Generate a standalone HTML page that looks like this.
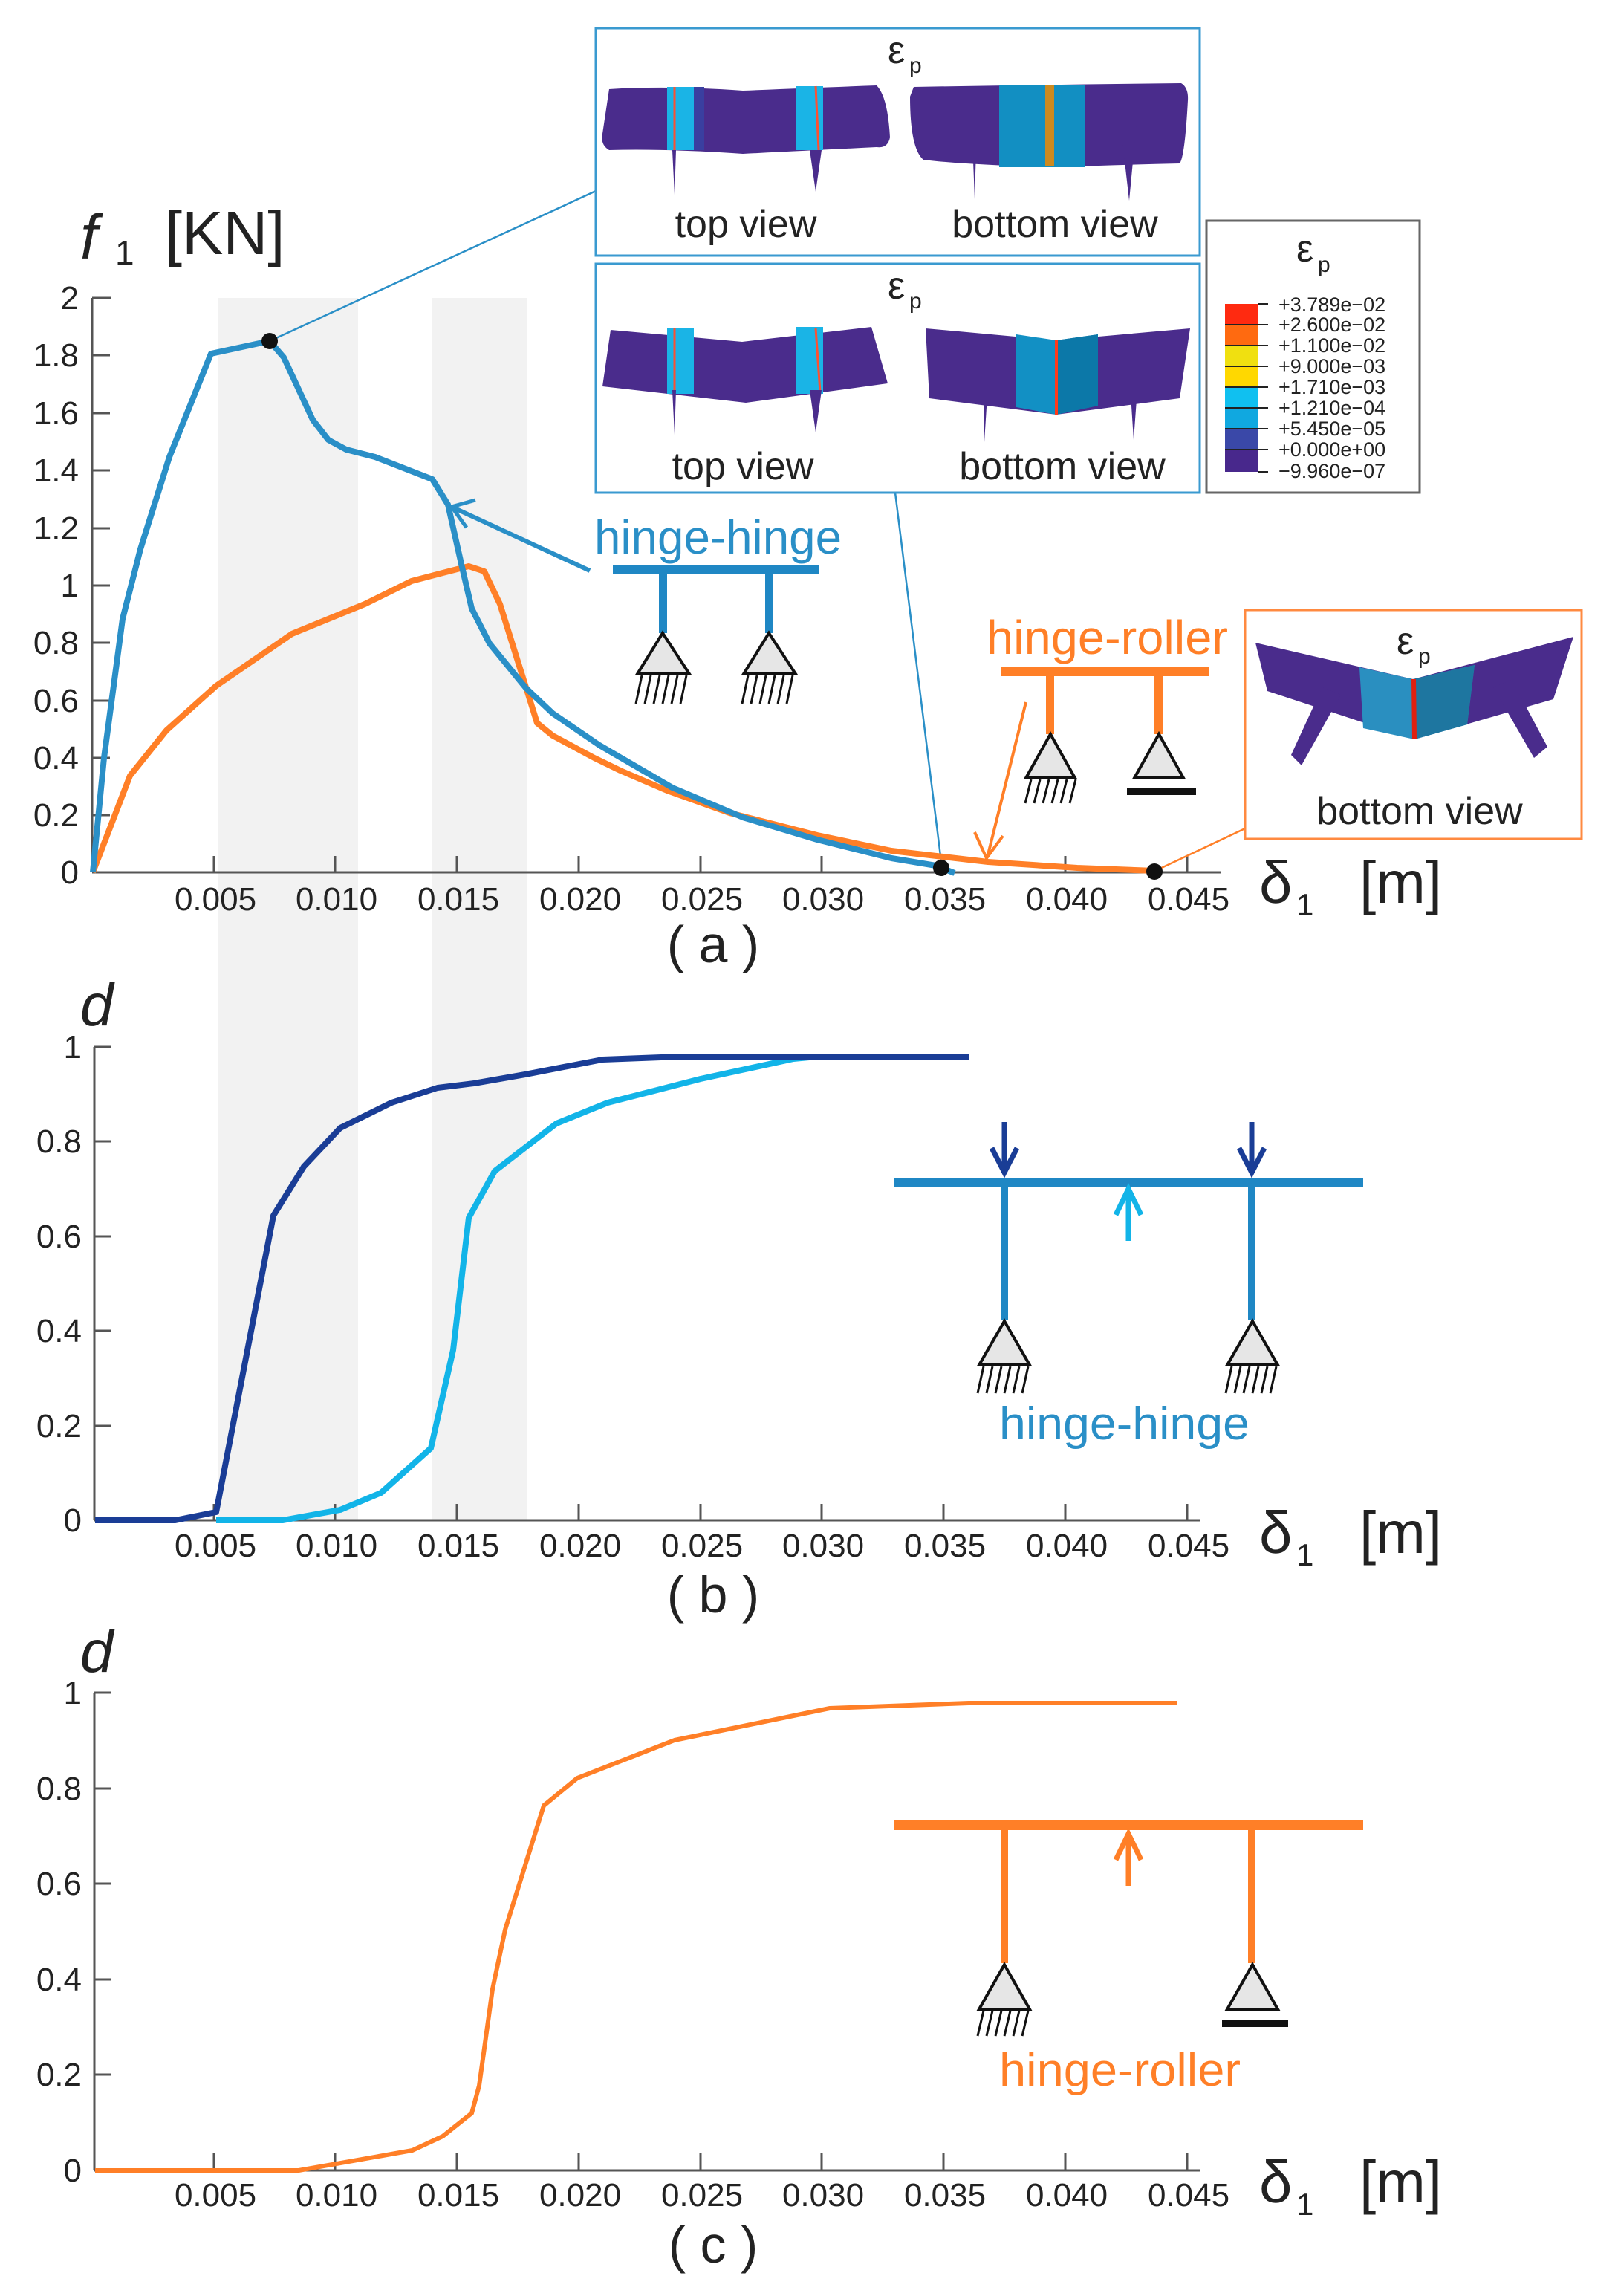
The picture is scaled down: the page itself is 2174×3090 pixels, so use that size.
<!DOCTYPE html>
<html><head><meta charset="utf-8"><style>
html,body{margin:0;padding:0;background:#fff}
svg{display:block}
text{font-family:"Liberation Sans",sans-serif}
</style></head><body>
<svg width="2174" height="3090" viewBox="0 0 2174 3090" xmlns="http://www.w3.org/2000/svg">
<rect x="293" y="401" width="189" height="1645" fill="#f2f2f2"/>
<rect x="582" y="401" width="128" height="1645" fill="#f2f2f2"/>

<g stroke="#555" stroke-width="3" fill="none">
<line x1="124" y1="401" x2="124" y2="1174"/>
<line x1="124" y1="1174" x2="1643" y2="1174"/>
<line x1="124" y1="401" x2="150" y2="401"/><line x1="124" y1="478" x2="148" y2="478"/><line x1="124" y1="556" x2="148" y2="556"/><line x1="124" y1="633" x2="148" y2="633"/><line x1="124" y1="711" x2="148" y2="711"/><line x1="124" y1="788" x2="148" y2="788"/><line x1="124" y1="865" x2="148" y2="865"/><line x1="124" y1="943" x2="148" y2="943"/><line x1="124" y1="1020" x2="148" y2="1020"/><line x1="124" y1="1097" x2="148" y2="1097"/>
<line x1="288" y1="1174" x2="288" y2="1152"/><line x1="451" y1="1174" x2="451" y2="1152"/><line x1="615" y1="1174" x2="615" y2="1152"/><line x1="779" y1="1174" x2="779" y2="1152"/><line x1="943" y1="1174" x2="943" y2="1152"/><line x1="1106" y1="1174" x2="1106" y2="1152"/><line x1="1270" y1="1174" x2="1270" y2="1152"/><line x1="1434" y1="1174" x2="1434" y2="1152"/><line x1="1598" y1="1174" x2="1598" y2="1152"/>
</g>
<g font-size="44" fill="#222" text-anchor="end">
<text x="106" y="416">2</text><text x="106" y="493">1.8</text><text x="106" y="571">1.6</text><text x="106" y="648">1.4</text><text x="106" y="726">1.2</text><text x="106" y="803">1</text><text x="106" y="880">0.8</text><text x="106" y="958">0.6</text><text x="106" y="1035">0.4</text><text x="106" y="1112">0.2</text><text x="106" y="1189">0</text>
</g>
<g font-size="44" fill="#222" text-anchor="middle">
<text x="290" y="1225">0.005</text><text x="453" y="1225">0.010</text><text x="617" y="1225">0.015</text><text x="781" y="1225">0.020</text><text x="945" y="1225">0.025</text><text x="1108" y="1225">0.030</text><text x="1272" y="1225">0.035</text><text x="1436" y="1225">0.040</text><text x="1600" y="1225">0.045</text>
</g>
<text x="108" y="348" font-size="84" font-style="italic" fill="#222">f</text>
<text x="155" y="356" font-size="46" fill="#222">1</text>
<text x="222" y="342" font-size="83" fill="#222">[KN]</text>
<text x="1695" y="1215" font-size="80" fill="#222">δ</text>
<text x="1745" y="1232" font-size="42" fill="#222">1</text>
<text x="1830" y="1215" font-size="80" fill="#222">[m]</text>
<text x="960" y="1295" font-size="70" fill="#222" text-anchor="middle">( a )</text>

<line x1="363" y1="459" x2="802" y2="257" stroke="#2a8fc7" stroke-width="2.5"/>
<line x1="1205" y1="663" x2="1268" y2="1168" stroke="#2a8fc7" stroke-width="2.5"/>
<line x1="1676" y1="1115" x2="1555" y2="1172" stroke="#ff7f27" stroke-width="2.5"/>

<polyline fill="none" stroke="#ff7f27" stroke-width="8" stroke-linejoin="round" points="125,1174 175,1044 224,983 291,923 393,853 491,813 554,782 596,771 631,762 652,769 673,813 723,973 744,990 800,1020 835,1037 898,1064 982,1094 1100,1124 1200,1145 1330,1160 1450,1168 1555,1172"/>
<polyline fill="none" stroke="#2a8fc7" stroke-width="8" stroke-linejoin="round" points="125,1174 140,1020 165,833 189,739 228,615 284,476 363,459 382,481 421,565 442,592 466,605 505,615 582,645 603,679 621,759 635,819 659,866 708,926 744,960 807,1003 905,1060 1000,1100 1100,1130 1200,1155 1260,1165 1285,1175"/>
<circle cx="363" cy="459" r="11" fill="#111"/>
<circle cx="1267" cy="1168" r="11" fill="#111"/>
<circle cx="1554" cy="1173" r="11" fill="#111"/>

<line x1="794" y1="768" x2="612" y2="684" stroke="#2a8fc7" stroke-width="6"/>
<polyline points="640,673 608,682 628,710" fill="none" stroke="#2a8fc7" stroke-width="5"/>
<line x1="1381" y1="945" x2="1330" y2="1150" stroke="#ff7f27" stroke-width="4"/>
<polyline points="1312,1120 1328,1155 1350,1125" fill="none" stroke="#ff7f27" stroke-width="4"/>

<text x="800" y="745" font-size="64" fill="#2a8fc7" textLength="333" lengthAdjust="spacingAndGlyphs">hinge-hinge</text>
<rect x="825" y="761" width="278" height="12" fill="#1f87c4"/>
<rect x="887" y="770" width="11" height="82" fill="#1f87c4"/>
<rect x="1030" y="770" width="11" height="82" fill="#1f87c4"/>
<g stroke="#111" stroke-width="4" fill="#e6e6e6">
<polygon points="892,852 858,907 928,907"/>
<polygon points="1035,852 1001,907 1071,907"/>
</g>
<g stroke="#111" stroke-width="3">
<path d="M864,909 l-8,38 M876,909 l-8,38 M888,909 l-8,38 M900,909 l-8,38 M912,909 l-8,38 M924,909 l-8,38"/>
<path d="M1007,909 l-8,38 M1019,909 l-8,38 M1031,909 l-8,38 M1043,909 l-8,38 M1055,909 l-8,38 M1067,909 l-8,38"/>
</g>

<text x="1328" y="880" font-size="64" fill="#ff7f27" textLength="325" lengthAdjust="spacingAndGlyphs">hinge-roller</text>
<rect x="1348" y="898" width="279" height="12" fill="#ff7f27"/>
<rect x="1408" y="906" width="11" height="82" fill="#ff7f27"/>
<rect x="1554" y="906" width="11" height="82" fill="#ff7f27"/>
<g stroke="#111" stroke-width="4" fill="#e6e6e6">
<polygon points="1414,988 1381,1047 1447,1047"/>
<polygon points="1560,988 1527,1047 1593,1047"/>
</g>
<rect x="1517" y="1060" width="93" height="10" fill="#111"/>
<path d="M1388,1049 l-8,32 M1400,1049 l-8,32 M1412,1049 l-8,32 M1424,1049 l-8,32 M1436,1049 l-8,32 M1448,1049 l-8,32" stroke="#111" stroke-width="3"/>

<rect x="802" y="38" width="813" height="306" fill="#fff" stroke="#3a9ad0" stroke-width="3"/>
<text x="1195" y="85" font-size="52" fill="#222">ε</text><text x="1224" y="98" font-size="30" fill="#222">p</text>
<path d="M820,120 Q900,115 1000,122 Q1100,118 1180,115 Q1195,130 1198,185 Q1195,200 1180,198 Q1100,202 1000,207 Q900,200 820,202 Q808,195 811,180 Z" fill="#4a2c8c"/>
<rect x="898" y="117" width="36" height="85" fill="#1ab4e6"/><rect x="1072" y="116" width="36" height="86" fill="#1ab4e6"/>
<rect x="934" y="117" width="14" height="85" fill="#3a3fa0"/>
<line x1="908" y1="117" x2="908" y2="202" stroke="#ff5030" stroke-width="3"/><line x1="1098" y1="116" x2="1102" y2="202" stroke="#ff5030" stroke-width="3"/>
<polygon points="905,202 910,202 908,262" fill="#4a2c8c"/><polygon points="1090,202 1106,202 1098,258" fill="#4a2c8c"/>
<path d="M1230,117 Q1400,114 1590,112 Q1600,118 1599,135 Q1595,210 1588,220 Q1500,222 1420,225 Q1300,222 1243,215 Q1225,200 1225,130 Z" fill="#4a2c8c"/>
<rect x="1345" y="115" width="115" height="110" fill="#128fc2"/>
<rect x="1407" y="115" width="12" height="108" fill="#cc8a20"/>
<polygon points="1308,165 1315,165 1312,268" fill="#4a2c8c"/><polygon points="1508,165 1530,165 1520,270" fill="#4a2c8c"/>
<text x="1004" y="319" font-size="52" fill="#222" text-anchor="middle">top view</text>
<text x="1420" y="319" font-size="52" fill="#222" text-anchor="middle">bottom view</text>

<rect x="802" y="355" width="813" height="308" fill="#fff" stroke="#3a9ad0" stroke-width="3"/>
<text x="1195" y="402" font-size="52" fill="#222">ε</text><text x="1224" y="415" font-size="30" fill="#222">p</text>
<polygon points="822,444 999,460 1173,440 1195,516 1004,542 811,520" fill="#4a2c8c"/>
<rect x="898" y="442" width="36" height="88" fill="#1ab4e6"/><rect x="1072" y="440" width="36" height="90" fill="#1ab4e6"/>
<line x1="908" y1="442" x2="908" y2="530" stroke="#ff5030" stroke-width="3"/><line x1="1098" y1="442" x2="1104" y2="528" stroke="#ff5030" stroke-width="3"/>
<polygon points="905,525 910,525 908,585" fill="#4a2c8c"/><polygon points="1090,525 1106,525 1098,582" fill="#4a2c8c"/>
<polygon points="1246,442 1422,458 1602,442 1588,536 1422,558 1251,536" fill="#4a2c8c"/>
<polygon points="1368,450 1422,458 1478,450 1478,546 1422,558 1368,548" fill="#1290c4"/>
<polygon points="1422,458 1478,450 1478,546 1422,558" fill="#0c78a8"/>
<line x1="1422" y1="458" x2="1422" y2="558" stroke="#ff3a1a" stroke-width="4"/>
<polygon points="1325,470 1333,470 1325,595" fill="#4a2c8c"/><polygon points="1518,470 1535,470 1526,592" fill="#4a2c8c"/>
<text x="1000" y="645" font-size="52" fill="#222" text-anchor="middle">top view</text>
<text x="1430" y="645" font-size="52" fill="#222" text-anchor="middle">bottom view</text>

<rect x="1624" y="297" width="287" height="366" fill="#fff" stroke="#666" stroke-width="3"/>
<text x="1745" y="352" font-size="52" fill="#222">ε</text><text x="1774" y="366" font-size="30" fill="#222">p</text>
<rect x="1649" y="409" width="44" height="28" fill="#ff2a10"/>
<rect x="1649" y="437" width="44" height="28" fill="#ff6a10"/>
<rect x="1649" y="465" width="44" height="28" fill="#f0e010"/>
<rect x="1649" y="493" width="44" height="28" fill="#ffd800"/>
<rect x="1649" y="521" width="44" height="28" fill="#10c0f0"/>
<rect x="1649" y="549" width="44" height="28" fill="#10a8e0"/>
<rect x="1649" y="577" width="44" height="28" fill="#3a48a8"/>
<rect x="1649" y="605" width="44" height="30" fill="#48288c"/>
<g stroke="#222" stroke-width="2"><path d="M1649,437 h58 M1649,465 h58 M1649,493 h58 M1649,521 h58 M1649,549 h58 M1649,577 h58 M1649,605 h58 M1693,409 h14 M1693,635 h14"/></g>
<g font-size="27" fill="#222">
<text x="1721" y="419">+3.789e−02</text><text x="1721" y="446">+2.600e−02</text><text x="1721" y="474">+1.100e−02</text><text x="1721" y="502">+9.000e−03</text><text x="1721" y="530">+1.710e−03</text><text x="1721" y="558">+1.210e−04</text><text x="1721" y="586">+5.450e−05</text><text x="1721" y="614">+0.000e+00</text><text x="1721" y="643">−9.960e−07</text>
</g>

<rect x="1676" y="821" width="453" height="308" fill="#fff" stroke="#ff8a40" stroke-width="3"/>
<polygon points="1690,865 1902,914 2118,857 2091,941 1904,995 1706,930" fill="#4a2c8c"/>
<polygon points="1830,898 1902,914 1985,895 1975,975 1904,995 1835,980" fill="#2a8fc0"/>
<polygon points="1902,914 1985,895 1975,975 1904,995" fill="#1e76a0"/>
<line x1="1903" y1="914" x2="1904" y2="995" stroke="#e02010" stroke-width="6"/>
<polygon points="1780,925 1805,935 1752,1030 1738,1016" fill="#4a2c8c"/>
<polygon points="2010,925 2035,915 2083,1005 2065,1020" fill="#4a2c8c"/>
<text x="1880" y="880" font-size="52" fill="#222">ε</text><text x="1909" y="893" font-size="30" fill="#222">p</text>
<text x="1911" y="1109" font-size="52" fill="#222" text-anchor="middle">bottom view</text>

<g stroke="#555" stroke-width="3" fill="none">
<line x1="127" y1="1409" x2="127" y2="2046"/>
<line x1="127" y1="2046" x2="1615" y2="2046"/>
<line x1="127" y1="1409" x2="150" y2="1409"/><line x1="127" y1="1536" x2="150" y2="1536"/><line x1="127" y1="1664" x2="150" y2="1664"/><line x1="127" y1="1791" x2="150" y2="1791"/><line x1="127" y1="1919" x2="150" y2="1919"/>
<line x1="288" y1="2046" x2="288" y2="2024"/><line x1="451" y1="2046" x2="451" y2="2024"/><line x1="615" y1="2046" x2="615" y2="2024"/><line x1="779" y1="2046" x2="779" y2="2024"/><line x1="943" y1="2046" x2="943" y2="2024"/><line x1="1106" y1="2046" x2="1106" y2="2024"/><line x1="1270" y1="2046" x2="1270" y2="2024"/><line x1="1434" y1="2046" x2="1434" y2="2024"/><line x1="1598" y1="2046" x2="1598" y2="2024"/>
</g>
<g font-size="44" fill="#222" text-anchor="end">
<text x="110" y="1424">1</text><text x="110" y="1551">0.8</text><text x="110" y="1679">0.6</text><text x="110" y="1806">0.4</text><text x="110" y="1934">0.2</text><text x="110" y="2061">0</text>
</g>
<g font-size="44" fill="#222" text-anchor="middle">
<text x="290" y="2095">0.005</text><text x="453" y="2095">0.010</text><text x="617" y="2095">0.015</text><text x="781" y="2095">0.020</text><text x="945" y="2095">0.025</text><text x="1108" y="2095">0.030</text><text x="1272" y="2095">0.035</text><text x="1436" y="2095">0.040</text><text x="1600" y="2095">0.045</text>
</g>
<text x="108" y="1380" font-size="80" font-style="italic" fill="#222">d</text>
<text x="1695" y="2090" font-size="80" fill="#222">δ</text>
<text x="1745" y="2107" font-size="42" fill="#222">1</text>
<text x="1830" y="2090" font-size="80" fill="#222">[m]</text>
<text x="960" y="2170" font-size="70" fill="#222" text-anchor="middle">( b )</text>
<polyline fill="none" stroke="#12b4e8" stroke-width="8" stroke-linejoin="round" points="291,2046 381,2046 458,2032 513,2009 580,1949 610,1817 631,1639 666,1576 749,1512 818,1484 943,1452 1068,1425 1100,1422"/>
<polyline fill="none" stroke="#1a3d96" stroke-width="8" stroke-linejoin="round" points="128,2046 236,2046 291,2035 368,1636 409,1570 458,1518 527,1484 589,1464 638,1458 707,1446 811,1426 915,1422 1304,1422"/>
<rect x="1204" y="1585" width="631" height="13" fill="#1f87c4"/>
<rect x="1347" y="1592" width="10" height="184" fill="#1f87c4"/>
<rect x="1680" y="1592" width="10" height="184" fill="#1f87c4"/>
<g stroke="#111" stroke-width="4" fill="#e6e6e6">
<polygon points="1352,1778 1318,1837 1386,1837"/><polygon points="1686,1778 1652,1837 1720,1837"/>
</g>
<path d="M1324,1839 l-8,36 M1336,1839 l-8,36 M1348,1839 l-8,36 M1360,1839 l-8,36 M1372,1839 l-8,36 M1384,1839 l-8,36 M1658,1839 l-8,36 M1670,1839 l-8,36 M1682,1839 l-8,36 M1694,1839 l-8,36 M1706,1839 l-8,36 M1718,1839 l-8,36" stroke="#111" stroke-width="3"/>
<g stroke="#1a3d96" stroke-width="7" fill="none">
<line x1="1352" y1="1510" x2="1352" y2="1575"/><polyline points="1335,1545 1352,1578 1369,1545"/>
<line x1="1685" y1="1510" x2="1685" y2="1575"/><polyline points="1668,1545 1685,1578 1702,1545"/>
</g>
<g stroke="#12b4e8" stroke-width="7" fill="none">
<line x1="1519" y1="1670" x2="1519" y2="1600"/><polyline points="1502,1635 1519,1600 1536,1635"/>
</g>
<text x="1345" y="1937" font-size="62" fill="#2a8fc7" textLength="337" lengthAdjust="spacingAndGlyphs">hinge-hinge</text>

<g stroke="#555" stroke-width="3" fill="none">
<line x1="127" y1="2278" x2="127" y2="2921"/>
<line x1="127" y1="2921" x2="1615" y2="2921"/>
<line x1="127" y1="2278" x2="150" y2="2278"/><line x1="127" y1="2407" x2="150" y2="2407"/><line x1="127" y1="2535" x2="150" y2="2535"/><line x1="127" y1="2664" x2="150" y2="2664"/><line x1="127" y1="2792" x2="150" y2="2792"/>
<line x1="288" y1="2921" x2="288" y2="2897"/><line x1="451" y1="2921" x2="451" y2="2897"/><line x1="615" y1="2921" x2="615" y2="2897"/><line x1="779" y1="2921" x2="779" y2="2897"/><line x1="943" y1="2921" x2="943" y2="2897"/><line x1="1106" y1="2921" x2="1106" y2="2897"/><line x1="1270" y1="2921" x2="1270" y2="2897"/><line x1="1434" y1="2921" x2="1434" y2="2897"/><line x1="1598" y1="2921" x2="1598" y2="2897"/>
</g>
<g font-size="44" fill="#222" text-anchor="end">
<text x="110" y="2293">1</text><text x="110" y="2422">0.8</text><text x="110" y="2550">0.6</text><text x="110" y="2679">0.4</text><text x="110" y="2807">0.2</text><text x="110" y="2936">0</text>
</g>
<g font-size="44" fill="#222" text-anchor="middle">
<text x="290" y="2969">0.005</text><text x="453" y="2969">0.010</text><text x="617" y="2969">0.015</text><text x="781" y="2969">0.020</text><text x="945" y="2969">0.025</text><text x="1108" y="2969">0.030</text><text x="1272" y="2969">0.035</text><text x="1436" y="2969">0.040</text><text x="1600" y="2969">0.045</text>
</g>
<text x="108" y="2250" font-size="80" font-style="italic" fill="#222">d</text>
<text x="1695" y="2964" font-size="80" fill="#222">δ</text>
<text x="1745" y="2981" font-size="42" fill="#222">1</text>
<text x="1830" y="2964" font-size="80" fill="#222">[m]</text>
<text x="960" y="3045" font-size="70" fill="#222" text-anchor="middle">( c )</text>
<polyline fill="none" stroke="#ff7f27" stroke-width="6" stroke-linejoin="round" points="128,2921 402,2921 555,2894 596,2875 635,2844 645,2807 663,2677 680,2597 732,2430 777,2393 908,2342 1117,2299 1304,2292 1584,2292"/>
<rect x="1204" y="2450" width="631" height="13" fill="#ff7f27"/>
<rect x="1347" y="2458" width="10" height="184" fill="#ff7f27"/>
<rect x="1680" y="2458" width="10" height="184" fill="#ff7f27"/>
<g stroke="#111" stroke-width="4" fill="#e6e6e6">
<polygon points="1352,2644 1318,2704 1386,2704"/><polygon points="1686,2644 1652,2704 1720,2704"/>
</g>
<rect x="1645" y="2718" width="89" height="10" fill="#111"/>
<path d="M1324,2706 l-8,34 M1336,2706 l-8,34 M1348,2706 l-8,34 M1360,2706 l-8,34 M1372,2706 l-8,34 M1384,2706 l-8,34" stroke="#111" stroke-width="3"/>
<g stroke="#ff7f27" stroke-width="7" fill="none">
<line x1="1519" y1="2538" x2="1519" y2="2468"/><polyline points="1502,2503 1519,2468 1536,2503"/>
</g>
<text x="1345" y="2807" font-size="62" fill="#ff7f27" textLength="325" lengthAdjust="spacingAndGlyphs">hinge-roller</text>
</svg>
</body></html>
